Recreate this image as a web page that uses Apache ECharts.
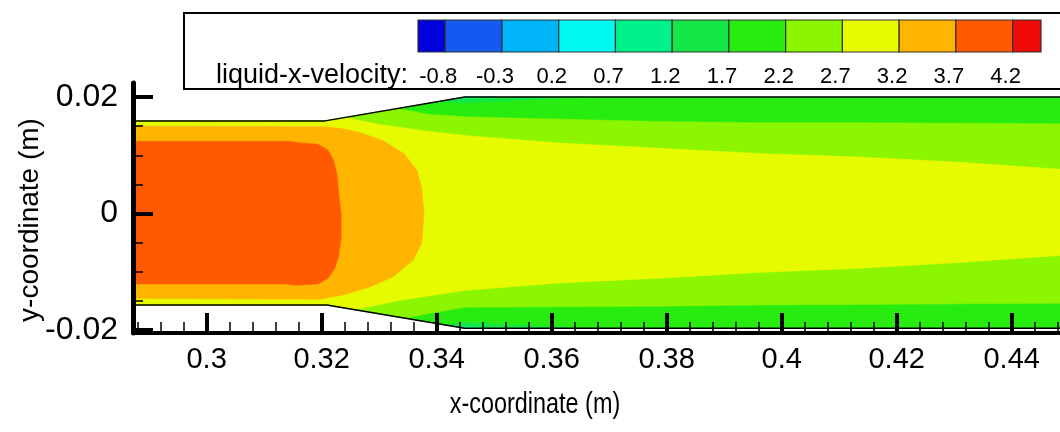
<!DOCTYPE html>
<html><head><meta charset="utf-8">
<script src="https://cdn.jsdelivr.net/npm/echarts@6/dist/echarts.min.js"></script>
<style>html,body{margin:0;padding:0;background:#fff}#c{width:1060px;height:432px}</style>
</head><body><div id="c"></div>
<script>
// ---------- axes ----------
const xRange = [0.2872, 0.4484];
const yRange = [-0.0205, 0.0224];
const xMajorTicks = [0.30, 0.32, 0.34, 0.36, 0.38, 0.40, 0.42, 0.44];
const xMinorTicks = [0.288, 0.292, 0.296, 0.304, 0.308, 0.312, 0.316, 0.324, 0.328, 0.332, 0.336,
  0.344, 0.348, 0.352, 0.356, 0.364, 0.368, 0.372, 0.376, 0.384, 0.388, 0.392, 0.396,
  0.404, 0.408, 0.412, 0.416, 0.424, 0.428, 0.432, 0.436, 0.444, 0.448];
const yMajorTicks = [-0.02, 0, 0.02];
const yMinorTicks = [-0.015, -0.01, -0.005, 0.005, 0.01, 0.015];

// ---------- colour levels ----------
const levelValues = [-0.8, -0.3, 0.2, 0.7, 1.2, 1.7, 2.2, 2.7, 3.2, 3.7, 4.2];
const levelLabels = ['-0.8', '-0.3', '0.2', '0.7', '1.2', '1.7', '2.2', '2.7', '3.2', '3.7', '4.2'];
const colorbarEdges = [-1.04, -0.8, -0.3, 0.2, 0.7, 1.2, 1.7, 2.2, 2.7, 3.2, 3.7, 4.2, 4.45];
const levelColors = ['#0000dc', '#145af0', '#00b4fa', '#00faf0', '#00f08c', '#14e646',
  '#28ec10', '#8cf500', '#e6fa00', '#ffb400', '#ff5a00', '#f00a0a'];

// ---------- geometry (walls) ----------
const wallTop = [[0.2872, 0.0159], [0.3206, 0.0159], [0.3449, 0.0200], [0.4484, 0.0200]];
const wallBottom = [[0.2872, -0.0157], [0.3209, -0.0157], [0.3449, -0.0197], [0.4484, -0.0197]];

// ---------- contour regions: upper edge (left->right), lower edge (left->right) ----------
// 1.2 < u < 1.7 patches at the diffuser walls
const c12TopUpper = [[0.3400, 0.0192], [0.3449, 0.0200], [0.3660, 0.0200]];
const c12TopLower = [[0.3400, 0.0192], [0.3449, 0.0190], [0.3560, 0.0195], [0.3660, 0.0200]];
const c12BotUpper = [[0.3410, -0.0191], [0.3449, -0.0187], [0.3560, -0.0192], [0.3660, -0.0197]];
const c12BotLower = [[0.3410, -0.0191], [0.3449, -0.0197], [0.3660, -0.0197]];
// 0.7 < u < 1.2 tiny spots
const c07TopUpper = [[0.3425, 0.0196], [0.3449, 0.0200], [0.3500, 0.0200]];
const c07TopLower = [[0.3425, 0.0196], [0.3449, 0.0197], [0.3500, 0.0200]];
const c07BotUpper = [[0.3430, -0.0193], [0.3449, -0.0194], [0.3500, -0.0197]];
const c07BotLower = [[0.3430, -0.0193], [0.3449, -0.0197], [0.3500, -0.0197]];
// u > 2.2
const c22Upper = [[0.2872, 0.0159], [0.3206, 0.0159], [0.3331, 0.0180], [0.3388, 0.0170], [0.3449, 0.0166],
  [0.3614, 0.0162], [0.3788, 0.0158], [0.3962, 0.0156], [0.4136, 0.0156], [0.4310, 0.0155], [0.4484, 0.0154]];
const c22Lower = [[0.2872, -0.0157], [0.3209, -0.0157], [0.3345, -0.0180], [0.3388, -0.0171], [0.3449, -0.0161],
  [0.3614, -0.0160], [0.3788, -0.0159], [0.3962, -0.0157], [0.4136, -0.0156], [0.4310, -0.0155], [0.4484, -0.0154]];
// u > 2.7
const c27Upper = [[0.2872, 0.0159], [0.3206, 0.0159], [0.3240, 0.0165], [0.3301, 0.0153], [0.3371, 0.0143],
  [0.3449, 0.0134], [0.3614, 0.0121], [0.3788, 0.0112], [0.3962, 0.0103], [0.4136, 0.0097], [0.4310, 0.0088], [0.4484, 0.0076]];
const c27Lower = [[0.2872, -0.0157], [0.3209, -0.0157], [0.3258, -0.0165], [0.3336, -0.0149], [0.3449, -0.0132],
  [0.3614, -0.0119], [0.3788, -0.0111], [0.3962, -0.0101], [0.4136, -0.0094], [0.4310, -0.0084], [0.4484, -0.0072]];
// u > 3.2
const c32Upper = [[0.2872, 0.0150], [0.3206, 0.0149], [0.3240, 0.0145], [0.3270, 0.0138], [0.3307, 0.0125],
  [0.3343, 0.0103], [0.3366, 0.0074], [0.3374, 0.0043], [0.3378, 0.0000]];
const c32Lower = [[0.2872, -0.0146], [0.3197, -0.0147], [0.3237, -0.0140], [0.3284, -0.0126], [0.3324, -0.0109],
  [0.3359, -0.0080], [0.3374, -0.0051], [0.3378, 0.0000]];
// u > 3.7
const c37Upper = [[0.2872, 0.0124], [0.3145, 0.0124], [0.3162, 0.0121], [0.3194, 0.0119], [0.3211, 0.0109],
  [0.3221, 0.0091], [0.3227, 0.0066], [0.3230, 0.0031], [0.3234, 0.0000]];
const c37Lower = [[0.2872, -0.0121], [0.3138, -0.0121], [0.3155, -0.0123], [0.3194, -0.0121], [0.3211, -0.0111],
  [0.3223, -0.0094], [0.3230, -0.0072], [0.3234, -0.0041], [0.3234, 0.0000]];

// region list built from the arrays above: [upper, lower, colour index]
const regionDefs = [
  [wallTop, wallBottom, 6],
  [c12TopUpper, c12TopLower, 5],
  [c12BotUpper, c12BotLower, 5],
  [c07TopUpper, c07TopLower, 4],
  [c07BotUpper, c07BotLower, 4],
  [c22Upper, c22Lower, 7],
  [c27Upper, c27Lower, 8],
  [c32Upper, c32Lower, 9],
  [c37Upper, c37Lower, 10]
];

const FONT = "'Liberation Sans', Arial, sans-serif";
const plotGrid = {left: 133, right: 0, top: 83, bottom: 99, containLabel: false};

const chart = echarts.init(document.getElementById('c'), null, {renderer: 'canvas'});

const option = {
  animation: false,
  backgroundColor: '#ffffff',
  grid: [
    plotGrid,
    {left: 418, width: 623, top: 20, height: 32, containLabel: false},
    Object.assign({}, plotGrid)
  ],
  xAxis: [
    {
      gridIndex: 0, type: 'value', min: xRange[0], max: xRange[1], position: 'bottom', z: 20,
      axisLine: {show: true, onZero: false, lineStyle: {color: '#000', width: 4}},
      axisTick: {show: true, inside: true, length: 20, customValues: xMajorTicks, lineStyle: {color: '#000', width: 4}},
      axisLabel: {show: true, customValues: xMajorTicks, margin: 12, color: '#000', fontSize: 29, fontFamily: FONT},
      splitLine: {show: false}
    },
    {
      gridIndex: 1, type: 'value', min: colorbarEdges[0], max: colorbarEdges[colorbarEdges.length - 1],
      axisLine: {show: false, onZero: false}, axisTick: {show: false}, splitLine: {show: false},
      axisLabel: {show: true, customValues: levelValues, margin: 14, color: '#000', fontSize: 22, fontFamily: FONT,
        padding: [0, 14, 0, 0],
        formatter: function (v) { const i = levelValues.findIndex(function (l) { return Math.abs(l - v) < 1e-6; }); return i >= 0 ? levelLabels[i] : ''; }}
    },
    {
      gridIndex: 2, type: 'value', min: xRange[0], max: xRange[1], position: 'bottom', z: 19,
      axisLine: {show: false, onZero: false},
      axisTick: {show: true, inside: true, length: 11, customValues: xMinorTicks, lineStyle: {color: '#000', width: 1.5}},
      axisLabel: {show: false},
      splitLine: {show: false}
    }
  ],
  yAxis: [
    {
      gridIndex: 0, type: 'value', min: yRange[0], max: yRange[1], position: 'left', z: 20,
      axisLine: {show: true, onZero: false, lineStyle: {color: '#000', width: 5}},
      axisTick: {show: true, inside: true, length: 20, customValues: yMajorTicks, lineStyle: {color: '#000', width: 4}},
      axisLabel: {show: true, customValues: yMajorTicks, margin: 15, color: '#000', fontSize: 32, fontFamily: FONT},
      splitLine: {show: false}
    },
    {
      gridIndex: 1, type: 'value', min: 0, max: 1, show: false
    },
    {
      gridIndex: 2, type: 'value', min: yRange[0], max: yRange[1], position: 'left', z: 19,
      axisLine: {show: false, onZero: false},
      axisTick: {show: true, inside: true, length: 10, customValues: yMinorTicks, lineStyle: {color: '#000', width: 1.5}},
      axisLabel: {show: false},
      splitLine: {show: false}
    }
  ],
  graphic: [
    {type: 'rect', left: 183, top: 12, shape: {width: 900, height: 76}, z: 0,
      style: {fill: 'rgba(0,0,0,0)', stroke: '#000', lineWidth: 2}},
    {type: 'text', x: 408, y: 76, z: 10,
      style: {text: 'liquid-x-velocity:', fill: '#000', fontSize: 27, fontFamily: FONT, align: 'right', verticalAlign: 'middle'}},
    {type: 'text', x: 535, y: 405, scaleX: 0.78, z: 10,
      style: {text: 'x-coordinate (m)', fill: '#000', fontSize: 30, fontFamily: FONT, align: 'center', verticalAlign: 'middle'}},
    {type: 'text', x: 30, y: 220, rotation: Math.PI / 2, z: 10,
      style: {text: 'y-coordinate (m)', fill: '#000', fontSize: 28, fontFamily: FONT, align: 'center', verticalAlign: 'middle'}}
  ],
  series: [
    {
      type: 'custom', xAxisIndex: 0, yAxisIndex: 0, clip: true, z: 2,
      data: regionDefs.map(function (d, i) { return [i]; }),
      renderItem: function (params, api) {
        const d = regionDefs[api.value(0)];
        const pts = [];
        d[0].forEach(function (p) { pts.push(api.coord(p)); });
        for (let k = d[1].length - 1; k >= 0; k--) pts.push(api.coord(d[1][k]));
        return {type: 'polygon', shape: {points: pts},
          style: {fill: levelColors[d[2]], stroke: levelColors[d[2]], lineWidth: 0.5}};
      }
    },
    {
      type: 'line', xAxisIndex: 0, yAxisIndex: 0, data: wallTop, symbol: 'none', z: 5,
      lineStyle: {color: '#000', width: 1.5}
    },
    {
      type: 'line', xAxisIndex: 0, yAxisIndex: 0, data: wallBottom, symbol: 'none', z: 5,
      lineStyle: {color: '#000', width: 1.5}
    },
    {
      type: 'custom', xAxisIndex: 1, yAxisIndex: 1, z: 3,
      data: levelColors.map(function (c, i) { return [colorbarEdges[i], colorbarEdges[i + 1], i]; }),
      renderItem: function (params, api) {
        const p0 = api.coord([api.value(0), 1]);
        const p1 = api.coord([api.value(1), 0]);
        return {type: 'rect', shape: {x: p0[0], y: p0[1], width: p1[0] - p0[0], height: p1[1] - p0[1]},
          style: {fill: levelColors[api.value(2)], stroke: '#333', lineWidth: 1.2}};
      }
    }
  ]
};
chart.setOption(option);
</script>
</body></html>
